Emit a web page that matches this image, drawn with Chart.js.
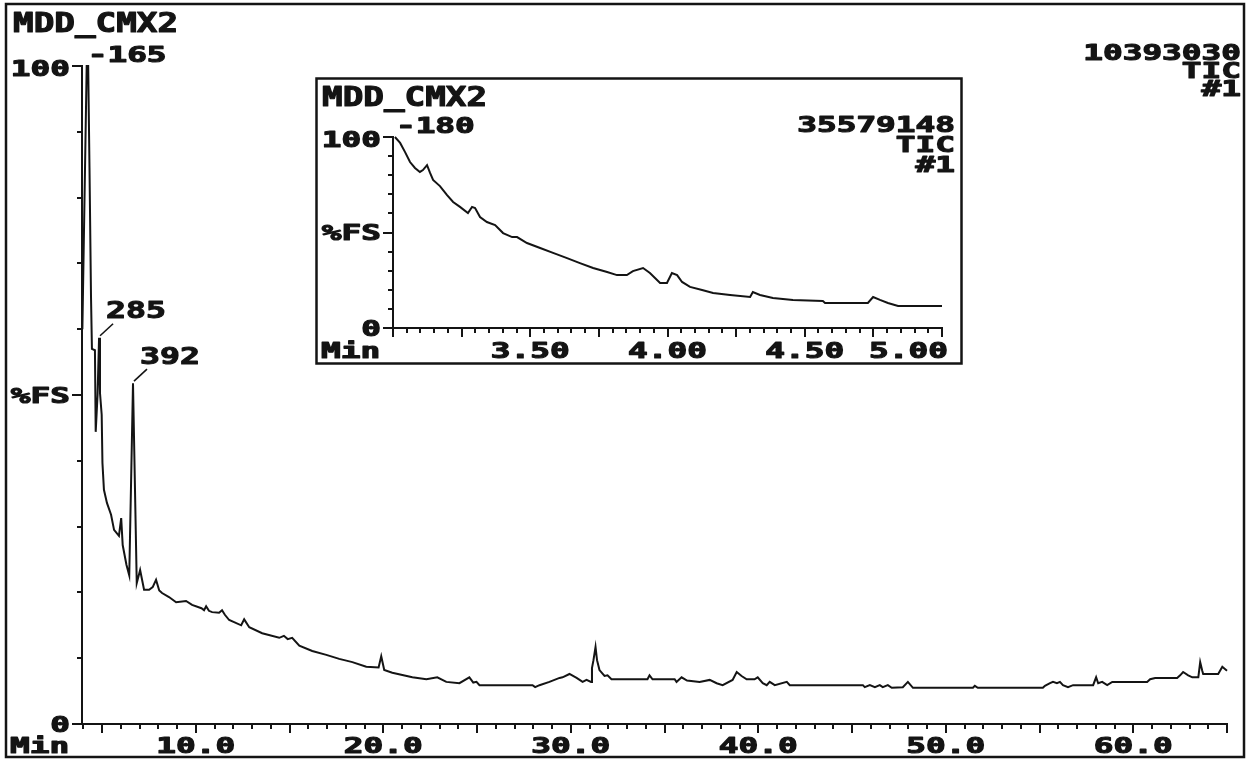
<!DOCTYPE html>
<html>
<head>
<meta charset="utf-8">
<title>MDD_CMX2 TIC</title>
<script src="https://cdn.jsdelivr.net/npm/chart.js@4.4.1/dist/chart.umd.min.js"></script>
<style>
  html, body { margin: 0; padding: 0; background: #fff; }
  #wrap { position: relative; width: 1252px; height: 760px; overflow: hidden; }
  #main { position: absolute; left: 0; top: 0; }
  #inset { position: absolute; left: 315px; top: 77px; }
</style>
</head>
<body>
<div id="wrap">
  <canvas id="main" width="1252" height="760"></canvas>
  <canvas id="inset" width="648" height="288"></canvas>
</div>
<script>
// Full run: retention time (min) and intensity (%FS)
const mainMin = [
  3.95, 4.18, 4.26, 4.33, 4.41, 4.46, 4.62, 4.66, 4.76, 4.84, 4.89, 4.98, 5.02, 5.10, 5.26,
  5.48, 5.64, 5.90, 6.02, 6.10, 6.30, 6.45, 6.55, 6.65, 6.74, 6.85, 7.03, 7.24, 7.51, 7.70,
  7.88, 8.05, 8.20, 8.57, 8.95, 9.48, 9.80, 10.30, 10.44, 10.55, 10.70, 10.87, 11.24, 11.40, 11.55,
  11.78, 12.42, 12.58, 12.85, 13.54, 14.45, 14.70, 14.90, 15.14, 15.52, 16.21, 16.96, 17.65, 18.35, 19.09,
  19.75, 19.89, 20.05, 20.48, 21.55, 22.30, 22.88, 23.36, 24.06, 24.59, 24.80, 24.97, 25.13, 27.96, 28.10,
  28.33, 28.86, 29.40, 29.56, 29.93, 30.31, 30.63, 30.84, 31.08, 31.13, 31.21, 31.32, 31.40, 31.53, 31.80,
  31.96, 32.17, 34.09, 34.20, 34.36, 35.54, 35.64, 35.91, 36.20, 36.87, 37.41, 37.78, 38.10, 38.63, 38.85,
  39.11, 39.38, 39.80, 39.97, 40.24, 40.45, 40.61, 40.88, 41.52, 41.68, 45.58, 45.68, 45.95, 46.22, 46.48,
  46.64, 46.91, 47.12, 47.71, 47.98, 48.25, 51.45, 51.55, 51.71, 55.18, 55.29, 55.56, 55.72, 55.93, 56.09,
  56.25, 56.52, 56.79, 57.86, 58.02, 58.13, 58.34, 58.61, 58.88, 59.14, 60.74, 60.90, 61.17, 62.34, 62.50,
  62.66, 62.93, 63.15, 63.47, 63.57, 63.68, 63.73, 64.53, 64.75, 65.00
];
const mainPct = [
  60, 100, 100, 84.5, 65, 57, 56.8, 44.4, 50, 58.7, 50.3, 47, 39.7, 35.6, 33.6,
  31.8, 29.5, 28.6, 31.3, 27.2, 24.2, 22.6, 37.1, 51.8, 38.1, 21.4, 23.4, 20.4, 20.4, 20.8,
  21.9, 20.3, 19.9, 19.3, 18.5, 18.7, 18.1, 17.6, 17.3, 17.9, 17.2, 17.0, 16.9, 17.3, 16.6,
  15.8, 15.0, 15.9, 14.7, 13.8, 13.1, 13.4, 12.9, 13.1, 11.9, 11.1, 10.5, 9.9, 9.4, 8.7,
  8.6, 10.3, 8.2, 7.8, 7.1, 6.8, 7.1, 6.4, 6.2, 7.1, 6.3, 6.4, 5.9, 5.9, 5.6,
  5.9, 6.4, 7.0, 7.1, 7.6, 7.0, 6.4, 6.7, 6.4, 8.5, 9.7, 11.7, 9.7, 8.2, 7.3,
  7.4, 6.8, 6.8, 7.4, 6.8, 6.8, 6.4, 7.1, 6.6, 6.4, 6.7, 6.2, 5.9, 6.7, 7.9,
  7.3, 6.8, 6.8, 7.1, 6.2, 5.9, 6.4, 5.9, 6.4, 5.9, 5.9, 5.6, 5.9, 5.6, 5.9,
  5.6, 5.9, 5.5, 5.6, 6.4, 5.5, 5.5, 5.8, 5.5, 5.5, 5.8, 6.2, 6.4, 6.2, 6.4,
  5.9, 5.6, 5.9, 5.9, 7.1, 6.2, 6.4, 5.9, 6.4, 6.4, 6.4, 6.8, 7.0, 7.0, 7.4,
  7.9, 7.4, 7.1, 7.1, 9.4, 8.1, 7.6, 7.6, 8.7, 8.1
];
const mainTickMin = [10, 20, 30, 40, 50, 60];
const mainTickText = ['10.0', '20.0', '30.0', '40.0', '50.0', '60.0'];
// labelled scans in the full run
const peakScan = ['285', '392'];
const peakMin = [4.84, 6.65];
const peakPct = [58.7, 51.8];
const basePeakScan = '165';
const basePeakMin = 4.18;

// Expanded window 3.0 - 5.0 min
const insetMin = [
  3.007, 3.026, 3.044, 3.062, 3.080, 3.098, 3.109, 3.124, 3.135, 3.146, 3.171, 3.197, 3.219, 3.244, 3.273,
  3.288, 3.299, 3.317, 3.342, 3.372, 3.401, 3.434, 3.452, 3.488, 3.536, 3.583, 3.634, 3.681, 3.729, 3.780,
  3.816, 3.852, 3.874, 3.911, 3.936, 3.973, 3.998, 4.016, 4.035, 4.053, 4.082, 4.126, 4.166, 4.228, 4.301,
  4.311, 4.337, 4.384, 4.457, 4.566, 4.574, 4.730, 4.749, 4.774, 4.803, 4.840, 5.000
];
const insetPct = [
  100, 96.9, 92.1, 86.9, 83.8, 81.7, 82.7, 85.3, 81.2, 77.5, 74.3, 69.6, 66.0, 63.4, 60.2,
  63.4, 62.8, 58.1, 55.5, 53.9, 49.7, 47.6, 47.6, 44.5, 41.9, 39.3, 36.6, 34.0, 31.4, 29.3,
  27.7, 27.7, 29.8, 31.4, 28.8, 23.6, 23.6, 28.8, 27.7, 24.1, 21.5, 19.9, 18.3, 17.3, 16.2,
  18.8, 17.3, 15.7, 14.7, 14.1, 13.1, 13.1, 16.2, 14.7, 13.1, 11.5, 11.5
];
const insetTickMin = [3.5, 4.0, 4.5, 5.0];
const insetTickText = ['3.50', '4.00', '4.50', '5.00'];
const insetPeakScan = '180';

const INK = '#141414';
const MONO = '"DejaVu Sans Mono", "Liberation Mono", monospace';

// wide heavy terminal-style text; y is the vertical centre of the capitals
function txt(ctx, s, x, y, f, align) {
  const [size, stretch] = f;
  ctx.save();
  ctx.font = 'bold ' + size + 'px ' + MONO;
  ctx.textAlign = align || 'left';
  ctx.textBaseline = 'alphabetic';
  ctx.fillStyle = INK;
  ctx.strokeStyle = INK;
  ctx.lineWidth = 1.1;
  ctx.lineJoin = 'round';
  ctx.translate(x, y + size * 0.365);
  ctx.scale(stretch, 1);
  ctx.fillText(s, 0, 0);
  ctx.strokeText(s, 0, 0);
  ctx.restore();
}
const NUM = [21, 1.56];
const PEAK = [23, 1.44];
const TITLE = [27, 1.27];

function line(ctx, x1, y1, x2, y2) {
  ctx.beginPath();
  ctx.moveTo(x1, y1);
  ctx.lineTo(x2, y2);
  ctx.stroke();
}

// axes, ticks and captions for a panel
function drawAxes(chart, o) {
  const { ctx, chartArea: a, scales: { x, y } } = chart;
  ctx.save();
  ctx.strokeStyle = INK;
  ctx.lineWidth = 2;
  ctx.lineCap = 'square';
  line(ctx, a.left, a.top, a.left, a.bottom);
  line(ctx, a.left, a.bottom, a.right, a.bottom);

  for (let v = 0; v <= 100; v += 10) {
    const py = Math.round(y.getPixelForValue(v));
    line(ctx, a.left - (v % 50 === 0 ? 9 : 4), py, a.left, py);
  }
  const nx = Math.round((x.max - o.firstTick) / o.minorStep);
  for (let i = 0; i <= nx; i++) {
    const t = o.firstTick + i * o.minorStep;
    const px = Math.round(x.getPixelForValue(t));
    const major = Math.abs(t / o.majorStep - Math.round(t / o.majorStep)) < 1e-6;
    line(ctx, px, a.bottom, px, a.bottom + (major ? 8 : 4));
  }

  const ly = a.bottom + o.xLabelDy;
  txt(ctx, '100', a.left - 12, y.getPixelForValue(100) + 2, NUM, 'right');
  txt(ctx, '%FS', a.left - 12, y.getPixelForValue(50), NUM, 'right');
  txt(ctx, '0', a.left - 12, y.getPixelForValue(0), NUM, 'right');
  txt(ctx, 'Min', o.minLeft, ly, NUM, 'left');
  o.tickMin.forEach((t, i) => {
    const px = x.getPixelForValue(t);
    if (i === o.tickMin.length - 1 && o.lastRight) {
      txt(ctx, o.tickText[i], o.lastRight, ly, NUM, 'right');
    } else {
      txt(ctx, o.tickText[i], px, ly, NUM, 'center');
    }
  });

  txt(ctx, 'MDD_CMX2', o.titleX, o.titleY, TITLE, 'left');
  txt(ctx, o.scale, o.infoRight, o.infoY, NUM, 'right');
  txt(ctx, 'TIC', o.infoRight, o.infoY + o.infoGap, NUM, 'right');
  txt(ctx, '#1', o.infoRight, o.infoY + 2 * o.infoGap, NUM, 'right');

  // base peak scan number
  const bx = x.getPixelForValue(o.baseMin);
  const by = y.getPixelForValue(100);
  txt(ctx, '-' + o.baseScan, bx + 1, by - 12, NUM, 'left');
  ctx.restore();
}

function series(xs, ys) {
  return xs.map((t, i) => ({ x: t, y: ys[i] }));
}

function baseOptions(pad, xmin, xmax) {
  return {
    responsive: false,
    animation: false,
    devicePixelRatio: 1,
    events: [],
    layout: { padding: pad },
    plugins: { legend: { display: false }, tooltip: { enabled: false } },
    scales: {
      x: { type: 'linear', min: xmin, max: xmax, display: false },
      y: { type: 'linear', min: 0, max: 100, display: false }
    }
  };
}

// Full chromatogram
new Chart(document.getElementById('main'), {
  type: 'line',
  data: {
    datasets: [{
      data: series(mainMin, mainPct),
      borderColor: INK,
      borderWidth: 2,
      pointRadius: 0,
      tension: 0,
      fill: false,
      clip: 6
    }]
  },
  options: baseOptions({ left: 82, top: 66, right: 25, bottom: 36 }, 3.93, 65.0),
  plugins: [{
    id: 'fullRunFrame',
    beforeDraw(chart) {
      const ctx = chart.ctx;
      ctx.save();
      ctx.fillStyle = '#fff';
      ctx.fillRect(0, 0, chart.width, chart.height);
      ctx.strokeStyle = INK;
      ctx.lineWidth = 2.5;
      ctx.strokeRect(6, 4, 1238, 753);
      ctx.restore();
    },
    afterDraw(chart) {
      drawAxes(chart, {
        firstTick: 4, minorStep: 1, majorStep: 5,
        xLabelDy: 21, minLeft: 10,
        tickMin: mainTickMin, tickText: mainTickText,
        titleX: 13, titleY: 22,
        scale: '10393030', infoRight: 1241, infoY: 52, infoGap: 18,
        baseScan: basePeakScan, baseMin: basePeakMin
      });
      // scan labels with leaders
      const { ctx, scales: { x, y } } = chart;
      ctx.save();
      ctx.strokeStyle = INK;
      ctx.lineWidth = 1.6;
      peakScan.forEach((s, i) => {
        const px = x.getPixelForValue(peakMin[i]);
        const py = y.getPixelForValue(peakPct[i]);
        line(ctx, px + 1, py - 2, px + 14, py - 14);
        txt(ctx, s, px + 7, py - 28, PEAK, 'left');
      });
      ctx.restore();
    }
  }]
});

// Expanded view of the start of the run
new Chart(document.getElementById('inset'), {
  type: 'line',
  data: {
    datasets: [{
      data: series(insetMin, insetPct),
      borderColor: INK,
      borderWidth: 2,
      pointRadius: 0,
      tension: 0,
      fill: false,
      clip: 6
    }]
  },
  options: baseOptions({ left: 78, top: 60, right: 21, bottom: 37 }, 3.0, 5.0),
  plugins: [{
    id: 'insetFrame',
    beforeDraw(chart) {
      const ctx = chart.ctx;
      ctx.save();
      ctx.fillStyle = '#fff';
      ctx.fillRect(0, 0, chart.width, chart.height);
      ctx.strokeStyle = INK;
      ctx.lineWidth = 2.5;
      ctx.strokeRect(1.5, 1.5, chart.width - 3, chart.height - 3);
      ctx.restore();
    },
    afterDraw(chart) {
      drawAxes(chart, {
        firstTick: 3.0, minorStep: 0.05, majorStep: 0.25,
        xLabelDy: 22, minLeft: 6, lastRight: 633,
        tickMin: insetTickMin, tickText: insetTickText,
        titleX: 7, titleY: 19,
        scale: '35579148', infoRight: 640, infoY: 47, infoGap: 20,
        baseScan: insetPeakScan, baseMin: insetMin[0]
      });
    }
  }]
});
</script>
</body>
</html>
